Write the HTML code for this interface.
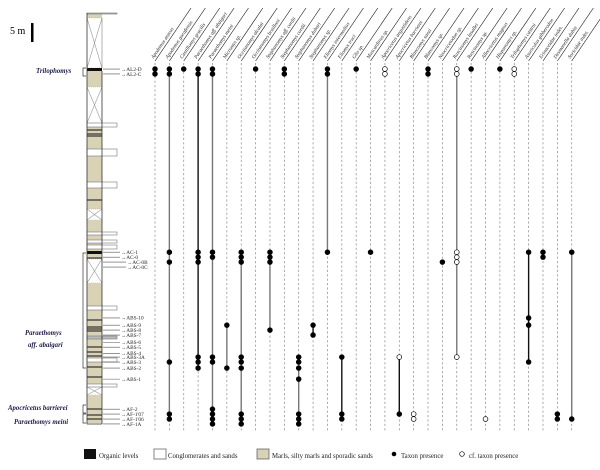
<!DOCTYPE html>
<html><head><meta charset="utf-8">
<style>
html,body{margin:0;padding:0;background:#fff;}
svg{display:block;font-family:"Liberation Serif",serif;}
</style></head>
<body>
<svg id="chart" width="600" height="470" viewBox="0 0 600 470" xmlns="http://www.w3.org/2000/svg">
  <g id="section"></g>
  <g id="samples"></g>
  <g id="taxa"></g>
  <g id="leftlabels"></g>
  <g id="legend"></g>
</svg>
<script>
// ---- data ----
const taxa = ["Apodemus atavus","Apodemus gorafensis","Castillomys gracilis","Paraethomys aff. abaigari","Paraethomys meini","Micromys sp.","Occitanomys alcalai","Occitanomys brailloni","Stephanomys aff. cordii","Stephanomys cordii","Stephanomys dubari","Stephanomys sp.","Eliomys intermedius","Eliomys truci","Glis sp.","Muscardinus sp.","Apocricetus angustidens","Apocricetus barrierei","Blancomys sanzi","Blancomys sp.","Neocricetodon sp.","Ruscinomys lasallei","Ruscinomys sp.","Allocricetus magnus","Hispanomys sp.","Trilophomys castroi","Asoriculus gibberodon","Erinaceidae indet.","Desmanella dubia","Soricidae indet."];
const sampleNames = ["AL2-D","AL2-C","AC-1","AC-0","AC-0B","AC-0C","ABS-10","ABS-9","ABS-8","ABS-7","ABS-6","ABS-5","ABS-4","ABS-3A","ABS-3","ABS-2","ABS-1","AF-2","AF-1'07","AF-1'06","AF-1A"];
// stratigraphic height of samples (m above base)
const sampleLevels = [93.7,92.4,45.5,44.2,42.9,41.6,28.2,26.3,25.0,23.7,21.8,20.5,18.9,17.9,16.6,15.0,12.1,4.2,2.9,1.6,0.3];
// occurrences: sample name -> "F" taxon presence, "O" cf. presence
const occ1 = {"AL2-D":"F","AL2-C":"F"};
const occ2 = {"AL2-D":"F","AL2-C":"F","AC-1":"F","AC-0B":"F","ABS-3":"F","AF-1'07":"F","AF-1'06":"F"};
const occ3 = {"AL2-D":"F"};
const occ4 = {"AL2-D":"F","AL2-C":"F","AC-1":"F","AC-0":"F","AC-0B":"F","ABS-3A":"F","ABS-3":"F","ABS-2":"F"};
const occ5 = {"AL2-D":"F","AL2-C":"F","AC-1":"F","AC-0":"F","ABS-3A":"F","ABS-3":"F","AF-2":"F","AF-1'07":"F","AF-1'06":"F","AF-1A":"F"};
const occ6 = {"ABS-9":"F","ABS-2":"F"};
const occ7 = {"AC-1":"F","AC-0":"F","AC-0B":"F","ABS-3A":"F","ABS-3":"F","ABS-2":"F","AF-1'07":"F","AF-1'06":"F","AF-1A":"F"};
const occ8 = {"AL2-D":"F"};
const occ9 = {"AC-1":"F","AC-0":"F","AC-0B":"F","ABS-8":"F"};
const occ10 = {"AL2-D":"F","AL2-C":"F"};
const occ11 = {"ABS-3A":"F","ABS-3":"F","ABS-2":"F","ABS-1":"F","AF-1'07":"F","AF-1'06":"F","AF-1A":"F"};
const occ12 = {"ABS-9":"F","ABS-7":"F"};
const occ13 = {"AL2-D":"F","AL2-C":"F","AC-1":"F"};
const occ14 = {"ABS-3A":"F","AF-1'07":"F","AF-1'06":"F"};
const occ15 = {"AL2-D":"F"};
const occ16 = {"AC-1":"F"};
const occ17 = {"AL2-D":"O","AL2-C":"O"};
const occ18 = {"ABS-3A":"O","AF-1'07":"F"};
const occ19 = {"AF-1'07":"O","AF-1'06":"O"};
const occ20 = {"AL2-D":"F","AL2-C":"F"};
const occ21 = {"AC-0B":"F"};
const occ22 = {"AL2-D":"O","AL2-C":"O","AC-1":"O","AC-0":"O","AC-0B":"O","ABS-3A":"O"};
const occ23 = {"AL2-D":"F"};
const occ24 = {"AF-1'06":"O"};
const occ25 = {"AL2-D":"F"};
const occ26 = {"AL2-D":"O","AL2-C":"O"};
const occ27 = {"AC-1":"F","ABS-10":"F","ABS-9":"F","ABS-3":"F"};
const occ28 = {"AC-1":"F","AC-0":"F"};
const occ29 = {"AF-1'07":"F","AF-1'06":"F"};
const occ30 = {"AC-1":"F","AF-1'06":"F"};
const occurrences = [occ1,occ2,occ3,occ4,occ5,occ6,occ7,occ8,occ9,occ10,occ11,occ12,occ13,occ14,occ15,occ16,occ17,occ18,occ19,occ20,occ21,occ22,occ23,occ24,occ25,occ26,occ27,occ28,occ29,occ30];
const lineTone = ["k","g","k","k","g","g","g","k","g","k","g","k","g","k","k","k","k","k","k","k","k","g","k","k","k","k","k","k","k","g"];

// ---- scales ----
const NS = "http://www.w3.org/2000/svg";
const yScale = m => 425.1 - m * 3.8;
const xScale = i => 155 + i * 14.37;
function mk(tag, attrs, parent){ const e=document.createElementNS(NS,tag); for(const k in attrs) e.setAttribute(k,attrs[k]); parent.appendChild(e); return e; }

// ---- stratigraphic column ----
const sec = document.getElementById('section');
const beds = [[13,18,"b"],[18,68,"x"],[68,71,"k"],[71,87,"b"],[87,123,"x"],[123,209,"b"],[209,220,"x"],[220,251,"b"],[251,254,"k"],[254,259,"b"],[259,283,"x"],[283,387,"b"],[387,395,"x"],[395,423,"b"]];
const extBeds = [[123,127,"w"],[149,156,"w"],[182,188,"w"],[232,235,"w"],[240,243,"w"],[245,249,"w"],[306,310,"w"],[336,339,"g"],[358,362,"w"],[384,387,"w"],[13,14,"g"]];
const thinLines = [130,134,136,200,258,320,327,329,331,347,352,356,367,377,409,415,419];
beds.forEach(b=>{
  const fill = b[2]==="b"?"#d8d2b6":(b[2]==="k"?"#111":"#fff");
  const r = mk('rect',{x:87,y:b[0],width:15,height:b[1]-b[0],fill:fill,stroke:"none"},sec);
  
  
  if(b[2]==="x"){
    mk('line',{x1:87,y1:b[0],x2:102,y2:b[1],stroke:"#999","stroke-width":0.6},sec);
    mk('line',{x1:102,y1:b[0],x2:87,y2:b[1],stroke:"#999","stroke-width":0.6},sec);
    mk('line',{x1:87,y1:b[0],x2:102,y2:b[0],stroke:"#aaa","stroke-width":0.6,"stroke-dasharray":"1,1"},sec);
    mk('line',{x1:87,y1:b[1],x2:102,y2:b[1],stroke:"#aaa","stroke-width":0.6,"stroke-dasharray":"1,1"},sec);
  }
});
thinLines.forEach(y=>{ mk('line',{x1:87,y1:y,x2:102,y2:y,stroke:"#222","stroke-width":1.1},sec); });
extBeds.forEach(b=>{
  const r = mk('rect',{x:87,y:b[0],width:30,height:b[1]-b[0],fill:b[2]==="w"?"#fff":"#bbb",stroke:"#777","stroke-width":0.6},sec);
  
  
});
mk('line',{x1:87,y1:13,x2:87,y2:424,stroke:"#333","stroke-width":0.8},sec);
mk('line',{x1:102,y1:18,x2:102,y2:68,stroke:"#666","stroke-width":0.5},sec);
mk('line',{x1:102,y1:71,x2:102,y2:424,stroke:"#333","stroke-width":0.8},sec);
mk('line',{x1:87,y1:424,x2:102,y2:424,stroke:"#333","stroke-width":0.8},sec);

// scale bar
const sb = mk('text',{x:10,y:34,"font-size":10},sec); sb.textContent="5 m";


const sbar = mk('rect',{x:31,y:yScale(93.7)-46,width:2.5,height:5*3.8,fill:"#000"},sec);



// ---- sample labels ----
const sg = document.getElementById('samples');
sampleNames.forEach((n,i)=>{
  const y = yScale(sampleLevels[i]);
  const indent = (n==="AC-0B"||n==="AC-0C")?6:0;
  mk('line',{x1:103,y1:y,x2:120+indent,y2:y,stroke:"#555","stroke-width":0.6},sg);
  const t = mk('text',{x:121+indent,y:y+1.8,"font-size":5.3,fill:"#222"},sg);
  t.textContent = "\u2192"+n;
  
  
});

// ---- taxon columns ----
const tg = document.getElementById('taxa');
taxa.forEach((name,i)=>{
  const x = xScale(i);
  const g = mk('g',{},tg);
  
  
  mk('line',{x1:x,y1:63,x2:x,y2:432,stroke:"#888","stroke-width":0.7,"stroke-dasharray":"2.2,2.2"},g);
  mk('line',{x1:x,y1:61,x2:x+36,y2:8,stroke:"#111","stroke-width":0.6},g);
  const t = mk('text',{x:0,y:0,"font-size":5.2,"font-style":"italic",fill:"#222",transform:`translate(${x-1.5},${59}) rotate(-56)`},g);
  t.textContent = name;
  
  
  const o = occurrences[i];
  const ys = Object.keys(o).map(s=>yScale(sampleLevels[sampleNames.indexOf(s)]));
  if(ys.length>1){
    const l = mk('line',{x1:x,y1:Math.min(...ys),x2:x,y2:Math.max(...ys),stroke:lineTone[i]==="k"?"#111":"#777","stroke-width":1.4},g);
    
    
  }
  Object.keys(o).forEach(s=>{
    const y = yScale(sampleLevels[sampleNames.indexOf(s)]);
    const c = mk('circle',{cx:x,cy:y,r:2.4,fill:o[s]==="F"?"#000":"#fff",stroke:"#000","stroke-width":0.7},g);
    
    
  });
});

// ---- assemblage labels ----
const lg = document.getElementById('leftlabels');
const asm = [["Trilophomys",36,73],["Paraethomys",25,335],["aff. abaigari",28,347],["Apocricetus barrierei",8,410],["Paraethomys meini",14,424]];
asm.forEach(a=>{
  const t = mk('text',{x:a[1],y:a[2],"font-size":6.8,"font-style":"italic","font-weight":"bold",fill:"#1c1c4a"},lg);
  t.textContent=a[0];
  
  
});
[[68,76],[253,368],[405,413],[414,423]].forEach(b=>{
  mk('path',{d:`M86,${b[0]} H83 V${b[1]} H86`,fill:"none",stroke:"#333","stroke-width":0.7},lg);
});

// ---- legend ----
const leg = document.getElementById('legend');
function legItem(name, sw, tx, label){
  const g = mk('g',{},leg);
  
  
  sw(g);
  const t = mk('text',{x:tx,y:458,"font-size":6.8,fill:"#222"},g); t.textContent=label;
}
legItem('legend-organic', g=>mk('rect',{x:84,y:449,width:12,height:10,fill:"#111"},g), 99, "Organic levels");
legItem('legend-conglomerates', g=>mk('rect',{x:154,y:449,width:12,height:10,fill:"#fff",stroke:"#666","stroke-width":0.8},g), 168, "Conglomerates and sands");
legItem('legend-marls', g=>mk('rect',{x:257,y:449,width:12,height:10,fill:"#d8d2b6",stroke:"#666","stroke-width":0.8},g), 272, "Marls, silty marls and sporadic sands");
legItem('legend-taxon-presence', g=>mk('circle',{cx:394,cy:454,r:2.3,fill:"#000"},g), 401, "Taxon presence");
legItem('legend-cf-presence', g=>mk('circle',{cx:462,cy:454,r:2.3,fill:"#fff",stroke:"#000","stroke-width":0.7},g), 469, "cf. taxon presence");
</script>
</body></html>
